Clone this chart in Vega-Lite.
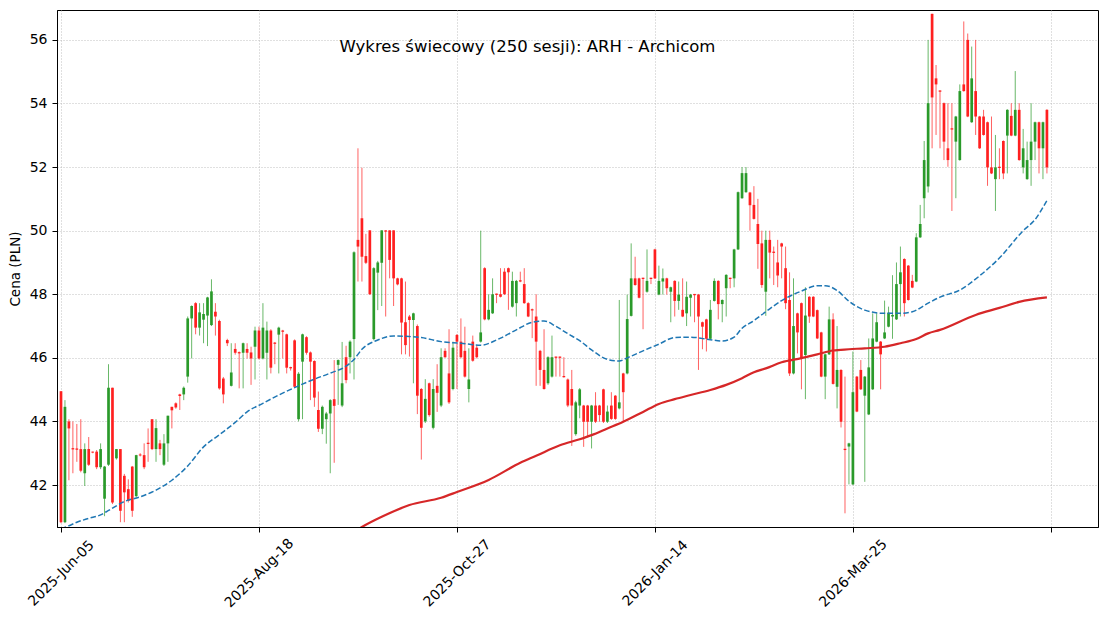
{
"$schema": "https://vega.github.io/schema/vega-lite/v6.json",
"width": 1041, "height": 517,
"autosize": {"type": "none"},
"padding": {"left": 57, "top": 10, "right": 10, "bottom": 93},
"background": "white",
"title": {"text": "Wykres świecowy (250 sesji): ARH - Archicom", "font": "DejaVu Sans", "fontSize": 16.5, "fontWeight": "normal", "color": "black", "anchor": "middle", "frame": "group", "dx": -50, "offset": -45},
"config": {
 "view": {"stroke": "black", "strokeWidth": 1},
 "axis": {"domainColor": "black", "tickColor": "black", "tickSize": 5, "labelColor": "black", "labelFont": "DejaVu Sans", "labelFontSize": 14, "titleFont": "DejaVu Sans", "titleFontSize": 13.5, "titleFontWeight": "normal", "titleColor": "black", "grid": true, "gridColor": "#b0b0b0", "gridDash": [1, 2], "gridWidth": 0.8}
},
"datasets": {
"candles": [
{"i":0,"o":44.95,"h":44.95,"l":40.8,"c":40.83},
{"i":1,"o":40.83,"h":44.67,"l":40.8,"c":44.46},
{"i":2,"o":44.0,"h":44.07,"l":42.15,"c":43.78},
{"i":3,"o":43.16,"h":44.0,"l":42.37,"c":43.12},
{"i":4,"o":43.15,"h":43.92,"l":42.73,"c":43.11},
{"i":5,"o":43.13,"h":44.07,"l":42.4,"c":42.45},
{"i":6,"o":42.37,"h":43.31,"l":41.97,"c":43.13},
{"i":7,"o":43.13,"h":43.51,"l":42.6,"c":42.64},
{"i":8,"o":43.05,"h":43.05,"l":43.0,"c":43.02},
{"i":9,"o":43.05,"h":43.1,"l":42.5,"c":42.56},
{"i":10,"o":42.56,"h":43.31,"l":42.5,"c":43.13},
{"i":11,"o":41.57,"h":42.6,"l":41.02,"c":42.58},
{"i":12,"o":42.64,"h":45.8,"l":42.6,"c":45.06},
{"i":13,"o":45.06,"h":45.06,"l":41.4,"c":41.45},
{"i":14,"o":42.84,"h":43.13,"l":42.8,"c":43.13},
{"i":15,"o":43.13,"h":43.13,"l":40.83,"c":41.19},
{"i":16,"o":42.29,"h":42.35,"l":40.83,"c":41.77},
{"i":17,"o":41.87,"h":42.18,"l":41.45,"c":41.5},
{"i":18,"o":42.58,"h":42.6,"l":41.0,"c":41.19},
{"i":19,"o":41.65,"h":42.95,"l":41.6,"c":42.94},
{"i":20,"o":42.96,"h":43.0,"l":42.9,"c":42.93},
{"i":21,"o":42.94,"h":43.31,"l":42.5,"c":42.56},
{"i":22,"o":43.33,"h":43.78,"l":42.73,"c":43.29},
{"i":23,"o":44.07,"h":44.07,"l":43.1,"c":43.13},
{"i":24,"o":43.13,"h":44.07,"l":42.73,"c":43.79},
{"i":25,"o":43.31,"h":43.42,"l":42.94,"c":43.13},
{"i":26,"o":42.64,"h":43.6,"l":42.6,"c":43.31},
{"i":27,"o":43.31,"h":44.18,"l":42.73,"c":44.18},
{"i":28,"o":44.46,"h":44.46,"l":43.78,"c":44.35},
{"i":29,"o":44.57,"h":44.6,"l":44.4,"c":44.44},
{"i":30,"o":44.85,"h":44.87,"l":44.36,"c":44.8},
{"i":31,"o":44.85,"h":45.1,"l":44.67,"c":45.06},
{"i":32,"o":45.41,"h":47.3,"l":45.22,"c":47.24},
{"i":33,"o":47.24,"h":47.65,"l":45.98,"c":47.63},
{"i":34,"o":47.72,"h":47.75,"l":46.74,"c":46.95},
{"i":35,"o":46.95,"h":47.72,"l":46.7,"c":47.43},
{"i":36,"o":47.2,"h":47.72,"l":46.46,"c":47.38},
{"i":37,"o":47.33,"h":47.92,"l":46.37,"c":47.9},
{"i":38,"o":47.03,"h":48.47,"l":47.0,"c":48.09},
{"i":39,"o":47.45,"h":47.72,"l":46.7,"c":47.3},
{"i":40,"o":47.16,"h":47.2,"l":45.0,"c":45.04},
{"i":41,"o":45.35,"h":45.4,"l":44.57,"c":44.85},
{"i":42,"o":46.56,"h":46.6,"l":46.37,"c":46.46},
{"i":43,"o":45.12,"h":46.46,"l":45.1,"c":45.54},
{"i":44,"o":46.28,"h":46.46,"l":46.1,"c":46.16},
{"i":45,"o":46.18,"h":46.2,"l":45.04,"c":46.14},
{"i":46,"o":46.16,"h":46.48,"l":45.04,"c":46.46},
{"i":47,"o":46.28,"h":46.46,"l":45.98,"c":46.16},
{"i":48,"o":46.17,"h":46.35,"l":45.15,"c":45.98},
{"i":49,"o":46.35,"h":46.98,"l":45.32,"c":46.86},
{"i":50,"o":46.86,"h":46.98,"l":45.95,"c":45.98},
{"i":51,"o":45.98,"h":47.72,"l":45.95,"c":46.95},
{"i":52,"o":46.16,"h":47.14,"l":45.32,"c":46.86},
{"i":53,"o":46.86,"h":46.9,"l":45.51,"c":45.69},
{"i":54,"o":46.48,"h":46.5,"l":45.8,"c":46.44},
{"i":55,"o":46.73,"h":46.98,"l":45.51,"c":46.95},
{"i":56,"o":46.86,"h":46.88,"l":45.98,"c":46.82},
{"i":57,"o":46.74,"h":46.76,"l":45.51,"c":45.69},
{"i":58,"o":45.71,"h":45.72,"l":45.6,"c":45.67},
{"i":59,"o":46.55,"h":46.58,"l":45.05,"c":45.09},
{"i":60,"o":44.07,"h":45.55,"l":44.0,"c":45.5},
{"i":61,"o":45.88,"h":46.76,"l":44.07,"c":46.74},
{"i":62,"o":46.65,"h":46.68,"l":46.1,"c":46.16},
{"i":63,"o":46.17,"h":46.2,"l":44.67,"c":45.88},
{"i":64,"o":45.9,"h":45.92,"l":44.46,"c":44.75},
{"i":65,"o":44.36,"h":44.94,"l":43.67,"c":43.77},
{"i":66,"o":43.77,"h":44.5,"l":43.6,"c":44.46},
{"i":67,"o":44.07,"h":44.3,"l":43.3,"c":44.25},
{"i":68,"o":44.25,"h":44.7,"l":42.37,"c":44.67},
{"i":69,"o":44.7,"h":45.93,"l":42.7,"c":44.49},
{"i":70,"o":45.78,"h":45.95,"l":44.52,"c":45.93},
{"i":71,"o":44.5,"h":46.5,"l":44.45,"c":45.2},
{"i":72,"o":46.02,"h":46.38,"l":45.2,"c":45.3},
{"i":73,"o":46.02,"h":46.55,"l":45.51,"c":46.51},
{"i":74,"o":46.59,"h":49.35,"l":45.32,"c":49.32},
{"i":75,"o":49.71,"h":52.59,"l":48.4,"c":49.5},
{"i":76,"o":50.39,"h":51.98,"l":48.4,"c":49.18},
{"i":77,"o":49.2,"h":49.9,"l":48.95,"c":48.99},
{"i":78,"o":50.01,"h":50.01,"l":47.98,"c":48.0},
{"i":79,"o":46.59,"h":48.85,"l":46.55,"c":48.82},
{"i":80,"o":48.68,"h":49.05,"l":47.5,"c":49.0},
{"i":81,"o":48.99,"h":50.01,"l":47.63,"c":50.01},
{"i":82,"o":50.01,"h":50.01,"l":47.3,"c":49.97},
{"i":83,"o":50.01,"h":50.01,"l":48.5,"c":49.08},
{"i":84,"o":50.01,"h":50.01,"l":47.63,"c":48.5},
{"i":85,"o":48.5,"h":48.52,"l":48.28,"c":48.31},
{"i":86,"o":48.5,"h":48.52,"l":46.11,"c":47.11},
{"i":87,"o":47.12,"h":48.4,"l":46.11,"c":46.4},
{"i":88,"o":47.3,"h":47.35,"l":46.04,"c":47.19},
{"i":89,"o":47.19,"h":47.42,"l":45.2,"c":47.4},
{"i":90,"o":47.0,"h":47.05,"l":44.23,"c":44.81},
{"i":91,"o":45.02,"h":45.05,"l":42.8,"c":43.8},
{"i":92,"o":44.0,"h":45.33,"l":43.95,"c":44.71},
{"i":93,"o":45.2,"h":45.22,"l":44.15,"c":44.2},
{"i":94,"o":43.8,"h":45.33,"l":43.75,"c":45.02},
{"i":95,"o":45.12,"h":45.8,"l":44.3,"c":44.9},
{"i":96,"o":44.5,"h":46.3,"l":44.45,"c":46.02},
{"i":97,"o":46.22,"h":46.3,"l":46.0,"c":46.02},
{"i":98,"o":45.51,"h":46.9,"l":44.55,"c":44.6},
{"i":99,"o":45.02,"h":46.51,"l":44.98,"c":46.32},
{"i":100,"o":46.72,"h":46.75,"l":45.02,"c":46.51},
{"i":101,"o":46.51,"h":47.24,"l":45.98,"c":46.02},
{"i":102,"o":46.22,"h":46.98,"l":45.38,"c":45.41},
{"i":103,"o":45.02,"h":46.3,"l":44.6,"c":45.32},
{"i":104,"o":46.51,"h":46.7,"l":45.88,"c":45.91},
{"i":105,"o":46.32,"h":46.4,"l":45.98,"c":46.02},
{"i":106,"o":46.51,"h":50.0,"l":46.48,"c":46.8},
{"i":107,"o":48.82,"h":48.85,"l":47.18,"c":47.21},
{"i":108,"o":47.21,"h":48.0,"l":47.18,"c":47.51},
{"i":109,"o":47.4,"h":48.5,"l":47.38,"c":48.0},
{"i":110,"o":48.02,"h":48.02,"l":47.72,"c":47.98},
{"i":111,"o":48.0,"h":48.82,"l":47.9,"c":47.92},
{"i":112,"o":48.71,"h":48.82,"l":47.98,"c":48.0},
{"i":113,"o":48.82,"h":48.84,"l":47.51,"c":48.69},
{"i":114,"o":47.61,"h":48.71,"l":47.58,"c":48.42},
{"i":115,"o":47.72,"h":48.45,"l":47.3,"c":48.42},
{"i":116,"o":48.44,"h":48.71,"l":48.38,"c":48.4},
{"i":117,"o":48.32,"h":48.82,"l":47.7,"c":47.72},
{"i":118,"o":47.72,"h":47.75,"l":47.28,"c":47.3},
{"i":119,"o":47.53,"h":47.55,"l":46.62,"c":47.49},
{"i":120,"o":47.3,"h":48.0,"l":45.12,"c":46.51},
{"i":121,"o":46.22,"h":46.25,"l":45.12,"c":45.62},
{"i":122,"o":45.62,"h":46.9,"l":45.0,"c":45.02},
{"i":123,"o":45.2,"h":46.05,"l":45.15,"c":46.02},
{"i":124,"o":45.41,"h":46.7,"l":45.38,"c":46.02},
{"i":125,"o":46.04,"h":46.04,"l":45.41,"c":46.0},
{"i":126,"o":46.04,"h":46.04,"l":45.41,"c":46.0},
{"i":127,"o":45.43,"h":46.02,"l":45.38,"c":45.39},
{"i":128,"o":45.32,"h":45.35,"l":44.45,"c":44.5},
{"i":129,"o":45.02,"h":45.62,"l":43.23,"c":44.5},
{"i":130,"o":43.6,"h":44.65,"l":43.55,"c":44.6},
{"i":131,"o":44.5,"h":45.05,"l":44.1,"c":45.01},
{"i":132,"o":44.5,"h":44.52,"l":43.2,"c":43.99},
{"i":133,"o":44.5,"h":44.52,"l":43.5,"c":43.99},
{"i":134,"o":43.99,"h":44.52,"l":43.15,"c":44.5},
{"i":135,"o":44.5,"h":44.92,"l":43.95,"c":43.99},
{"i":136,"o":44.5,"h":44.52,"l":43.99,"c":44.2},
{"i":137,"o":45.01,"h":45.03,"l":43.95,"c":43.99},
{"i":138,"o":43.99,"h":44.5,"l":43.95,"c":44.31},
{"i":139,"o":44.5,"h":44.92,"l":44.05,"c":44.08},
{"i":140,"o":44.81,"h":44.83,"l":44.05,"c":44.08},
{"i":141,"o":44.41,"h":47.82,"l":44.38,"c":44.6},
{"i":142,"o":45.51,"h":45.53,"l":43.99,"c":44.92},
{"i":143,"o":45.51,"h":47.99,"l":45.48,"c":47.22},
{"i":144,"o":47.32,"h":49.6,"l":47.3,"c":48.5},
{"i":145,"o":48.5,"h":49.18,"l":48.27,"c":48.29},
{"i":146,"o":48.5,"h":48.52,"l":47.87,"c":47.89},
{"i":147,"o":48.52,"h":48.52,"l":46.9,"c":48.48},
{"i":148,"o":48.08,"h":49.41,"l":48.05,"c":48.42},
{"i":149,"o":48.52,"h":48.52,"l":48.32,"c":48.48},
{"i":150,"o":49.41,"h":49.43,"l":48.48,"c":48.5},
{"i":151,"o":47.99,"h":48.9,"l":47.97,"c":48.42},
{"i":152,"o":48.4,"h":48.81,"l":47.99,"c":48.5},
{"i":153,"o":48.5,"h":48.52,"l":47.99,"c":48.19},
{"i":154,"o":48.08,"h":48.24,"l":47.12,"c":48.22},
{"i":155,"o":48.42,"h":48.44,"l":47.3,"c":47.79},
{"i":156,"o":47.79,"h":48.4,"l":47.51,"c":47.99},
{"i":157,"o":47.51,"h":48.5,"l":47.28,"c":47.3},
{"i":158,"o":47.4,"h":48.4,"l":47.0,"c":47.92},
{"i":159,"o":47.89,"h":48.01,"l":47.3,"c":47.99},
{"i":160,"o":48.01,"h":48.01,"l":47.12,"c":47.97},
{"i":161,"o":47.99,"h":48.01,"l":45.62,"c":47.3},
{"i":162,"o":47.12,"h":47.14,"l":46.27,"c":46.98},
{"i":163,"o":47.21,"h":47.23,"l":46.2,"c":46.6},
{"i":164,"o":46.6,"h":47.82,"l":46.58,"c":47.51},
{"i":165,"o":47.79,"h":48.5,"l":47.77,"c":48.42},
{"i":166,"o":48.42,"h":48.44,"l":47.21,"c":47.69},
{"i":167,"o":47.69,"h":47.84,"l":47.12,"c":47.82},
{"i":168,"o":48.19,"h":48.63,"l":47.3,"c":48.61},
{"i":169,"o":48.52,"h":48.52,"l":48.19,"c":48.48},
{"i":170,"o":48.5,"h":49.43,"l":48.22,"c":49.41},
{"i":171,"o":49.41,"h":51.23,"l":49.39,"c":51.21},
{"i":172,"o":51.02,"h":52.0,"l":51.0,"c":51.81},
{"i":173,"o":51.21,"h":52.0,"l":51.19,"c":51.81},
{"i":174,"o":51.2,"h":51.22,"l":50.0,"c":50.8},
{"i":175,"o":50.81,"h":51.4,"l":50.35,"c":50.37},
{"i":176,"o":50.21,"h":51.0,"l":48.8,"c":49.58},
{"i":177,"o":49.6,"h":50.0,"l":48.2,"c":48.29},
{"i":178,"o":48.08,"h":50.0,"l":47.32,"c":49.71},
{"i":179,"o":49.71,"h":50.0,"l":48.5,"c":49.31},
{"i":180,"o":49.34,"h":49.5,"l":48.29,"c":49.3},
{"i":181,"o":49.0,"h":49.71,"l":48.22,"c":48.59},
{"i":182,"o":49.6,"h":49.62,"l":48.5,"c":49.5},
{"i":183,"o":48.82,"h":49.5,"l":47.53,"c":47.72},
{"i":184,"o":47.82,"h":48.69,"l":45.43,"c":45.51},
{"i":185,"o":45.51,"h":48.5,"l":45.48,"c":47.0},
{"i":186,"o":47.4,"h":47.42,"l":46.14,"c":46.8},
{"i":187,"o":47.72,"h":47.74,"l":45.01,"c":45.99},
{"i":188,"o":46.09,"h":48.22,"l":44.7,"c":47.33},
{"i":189,"o":47.92,"h":47.94,"l":47.1,"c":47.3},
{"i":190,"o":47.92,"h":47.94,"l":47.28,"c":47.3},
{"i":191,"o":47.5,"h":47.52,"l":46.59,"c":46.61},
{"i":192,"o":46.8,"h":46.82,"l":45.39,"c":45.41},
{"i":193,"o":45.41,"h":46.13,"l":44.7,"c":46.11},
{"i":194,"o":46.11,"h":47.61,"l":46.09,"c":47.21},
{"i":195,"o":47.21,"h":47.4,"l":45.16,"c":45.18},
{"i":196,"o":45.09,"h":47.0,"l":44.41,"c":45.62},
{"i":197,"o":45.62,"h":45.64,"l":43.81,"c":43.99},
{"i":198,"o":43.14,"h":45.41,"l":41.11,"c":43.1},
{"i":199,"o":43.21,"h":43.33,"l":42.02,"c":43.31},
{"i":200,"o":42.02,"h":46.2,"l":42.0,"c":44.92},
{"i":201,"o":45.41,"h":45.43,"l":44.29,"c":44.31},
{"i":202,"o":45.62,"h":45.93,"l":44.99,"c":45.01},
{"i":203,"o":44.81,"h":45.43,"l":42.1,"c":45.41},
{"i":204,"o":44.22,"h":46.61,"l":44.2,"c":45.7},
{"i":205,"o":45.01,"h":47.4,"l":44.99,"c":46.61},
{"i":206,"o":46.51,"h":47.4,"l":46.49,"c":47.12},
{"i":207,"o":46.51,"h":46.53,"l":45.01,"c":46.11},
{"i":208,"o":46.61,"h":47.8,"l":46.59,"c":46.8},
{"i":209,"o":46.98,"h":47.61,"l":46.96,"c":47.42},
{"i":210,"o":47.3,"h":48.6,"l":46.6,"c":47.35},
{"i":211,"o":47.21,"h":49.0,"l":47.19,"c":48.32},
{"i":212,"o":48.32,"h":49.5,"l":47.3,"c":48.69},
{"i":213,"o":49.11,"h":49.13,"l":47.3,"c":47.72},
{"i":214,"o":48.9,"h":48.92,"l":47.8,"c":47.82},
{"i":215,"o":48.42,"h":48.61,"l":48.19,"c":48.21},
{"i":216,"o":48.4,"h":49.92,"l":48.38,"c":49.79},
{"i":217,"o":49.79,"h":50.81,"l":49.77,"c":50.21},
{"i":218,"o":51.02,"h":52.82,"l":50.39,"c":52.22},
{"i":219,"o":51.39,"h":56.0,"l":51.2,"c":54.01},
{"i":220,"o":56.82,"h":56.82,"l":52.59,"c":54.19},
{"i":221,"o":54.79,"h":55.21,"l":53.01,"c":54.6},
{"i":222,"o":54.41,"h":54.41,"l":52.59,"c":54.37},
{"i":223,"o":54.01,"h":54.03,"l":52.22,"c":52.8},
{"i":224,"o":52.59,"h":54.01,"l":52.01,"c":52.22},
{"i":225,"o":53.22,"h":54.01,"l":50.62,"c":53.18},
{"i":226,"o":52.8,"h":53.61,"l":51.02,"c":53.59},
{"i":227,"o":52.22,"h":54.6,"l":52.2,"c":54.39},
{"i":228,"o":54.6,"h":56.58,"l":54.37,"c":54.39},
{"i":229,"o":56.0,"h":56.2,"l":53.57,"c":53.59},
{"i":230,"o":53.41,"h":55.79,"l":53.39,"c":54.79},
{"i":231,"o":54.39,"h":56.0,"l":53.01,"c":53.59},
{"i":232,"o":53.59,"h":53.61,"l":52.57,"c":52.59},
{"i":233,"o":53.59,"h":53.8,"l":52.99,"c":53.01},
{"i":234,"o":53.41,"h":53.43,"l":51.41,"c":51.99},
{"i":235,"o":51.99,"h":53.59,"l":51.78,"c":51.8},
{"i":236,"o":51.62,"h":53.01,"l":50.62,"c":51.99},
{"i":237,"o":52.01,"h":52.59,"l":51.62,"c":51.97},
{"i":238,"o":52.82,"h":52.84,"l":51.62,"c":51.8},
{"i":239,"o":52.99,"h":53.82,"l":51.8,"c":53.8},
{"i":240,"o":53.61,"h":54.01,"l":52.97,"c":52.99},
{"i":241,"o":52.99,"h":55.02,"l":52.97,"c":53.8},
{"i":242,"o":53.8,"h":54.01,"l":52.2,"c":52.22},
{"i":243,"o":51.99,"h":53.2,"l":51.8,"c":52.59},
{"i":244,"o":51.62,"h":52.8,"l":51.6,"c":52.22},
{"i":245,"o":52.22,"h":54.01,"l":51.41,"c":52.8},
{"i":246,"o":52.8,"h":53.43,"l":52.22,"c":53.41},
{"i":247,"o":53.41,"h":53.43,"l":51.8,"c":52.59},
{"i":248,"o":52.59,"h":53.43,"l":51.62,"c":53.41},
{"i":249,"o":53.8,"h":53.82,"l":51.8,"c":51.99}
],
"ma50": [
{"i":0,"v":40.62},{"i":2,"v":40.72},{"i":4,"v":40.83},{"i":7,"v":40.95},{"i":10,"v":41.06},{"i":12,"v":41.2},{"i":16,"v":41.48},{"i":20,"v":41.63},{"i":24,"v":41.84},{"i":28,"v":42.15},{"i":32,"v":42.6},{"i":36,"v":43.2},{"i":40,"v":43.58},{"i":44,"v":43.97},{"i":47,"v":44.3},{"i":51,"v":44.57},{"i":55,"v":44.83},{"i":60,"v":45.12},{"i":64,"v":45.33},{"i":68,"v":45.52},{"i":72,"v":45.74},{"i":74,"v":45.95},{"i":76,"v":46.27},{"i":80,"v":46.56},{"i":84,"v":46.69},{"i":88,"v":46.67},{"i":91,"v":46.64},{"i":96,"v":46.51},{"i":101,"v":46.46},{"i":106,"v":46.4},{"i":111,"v":46.62},{"i":115,"v":46.88},{"i":119,"v":47.12},{"i":122,"v":47.16},{"i":125,"v":46.99},{"i":128,"v":46.76},{"i":131,"v":46.54},{"i":134,"v":46.25},{"i":138,"v":45.95},{"i":141,"v":45.9},{"i":143,"v":46.0},{"i":147,"v":46.22},{"i":151,"v":46.43},{"i":155,"v":46.64},{"i":159,"v":46.65},{"i":164,"v":46.57},{"i":167,"v":46.53},{"i":170,"v":46.65},{"i":172,"v":46.93},{"i":175,"v":47.17},{"i":178,"v":47.45},{"i":182,"v":47.8},{"i":187,"v":48.1},{"i":191,"v":48.27},{"i":193,"v":48.27},{"i":196,"v":48.12},{"i":199,"v":47.78},{"i":203,"v":47.5},{"i":208,"v":47.4},{"i":212,"v":47.4},{"i":215,"v":47.45},{"i":219,"v":47.72},{"i":222,"v":47.91},{"i":227,"v":48.13},{"i":232,"v":48.58},{"i":237,"v":49.14},{"i":243,"v":50.0},{"i":246,"v":50.35},{"i":249,"v":50.95}
],
"ma200": [
{"i":70,"v":40.2},{"i":76,"v":40.68},{"i":81,"v":41.0},{"i":88,"v":41.37},{"i":96,"v":41.6},{"i":100,"v":41.78},{"i":108,"v":42.16},{"i":116,"v":42.7},{"i":120,"v":42.92},{"i":126,"v":43.25},{"i":131,"v":43.44},{"i":134,"v":43.57},{"i":138,"v":43.78},{"i":142,"v":43.99},{"i":147,"v":44.3},{"i":151,"v":44.55},{"i":155,"v":44.7},{"i":159,"v":44.83},{"i":164,"v":44.99},{"i":168,"v":45.15},{"i":172,"v":45.36},{"i":175,"v":45.55},{"i":178,"v":45.67},{"i":182,"v":45.86},{"i":187,"v":45.99},{"i":191,"v":46.11},{"i":195,"v":46.23},{"i":199,"v":46.27},{"i":203,"v":46.3},{"i":208,"v":46.35},{"i":212,"v":46.46},{"i":216,"v":46.59},{"i":219,"v":46.77},{"i":222,"v":46.88},{"i":231,"v":47.35},{"i":237,"v":47.57},{"i":242,"v":47.76},{"i":249,"v":47.9}
]
},
"encoding": {
 "x": {"field": "i", "type": "quantitative", "title": null, "scale": {"domain": [-1.01, 261.9], "nice": false, "zero": false, "padding": 0},
       "axis": {"values": [0, 50, 100, 150, 200, 250], "labelAngle": -45, "labelAlign": "center", "labelBaseline": "middle", "labelPadding": 41, "labelExpr": "datum.value == 0 ? '2025-Jun-05' : datum.value == 50 ? '2025-Aug-18' : datum.value == 100 ? '2025-Oct-27' : datum.value == 150 ? '2026-Jan-14' : datum.value == 200 ? '2026-Mar-25' : ''"}}
},
"layer": [
{
 "data": {"name": "candles"},
 "mark": {"type": "rule", "strokeWidth": 1, "opacity": 0.7, "clip": true},
 "encoding": {
  "y": {"field": "l", "type": "quantitative", "title": "Cena (PLN)", "scale": {"domain": [40.68, 56.94], "nice": false, "zero": false},
        "axis": {"values": [42, 44, 46, 48, 50, 52, 54, 56], "titlePadding": 7, "labelPadding": 5}},
  "y2": {"field": "h"},
  "color": {"condition": {"test": "datum.c >= datum.o", "value": "#2a9a2a"}, "value": "#ff2020"}
 }
},
{
 "data": {"name": "candles"},
 "mark": {"type": "bar", "width": 2.7, "clip": true},
 "encoding": {
  "y": {"field": "o", "type": "quantitative", "title": "Cena (PLN)"},
  "y2": {"field": "c"},
  "color": {"condition": {"test": "datum.c >= datum.o", "value": "#2a9a2a"}, "value": "#ff2020"}
 }
},
{
 "data": {"name": "ma50"},
 "mark": {"type": "line", "color": "#1f77b4", "strokeWidth": 1.5, "strokeDash": [5.5, 2.4], "clip": true, "interpolate": "monotone"},
 "encoding": {
  "y": {"field": "v", "type": "quantitative", "title": "Cena (PLN)"}
 }
},
{
 "data": {"name": "ma200"},
 "mark": {"type": "line", "color": "#d62728", "strokeWidth": 2.2, "clip": true, "interpolate": "monotone"},
 "encoding": {
  "y": {"field": "v", "type": "quantitative", "title": "Cena (PLN)"}
 }
}
]
}
